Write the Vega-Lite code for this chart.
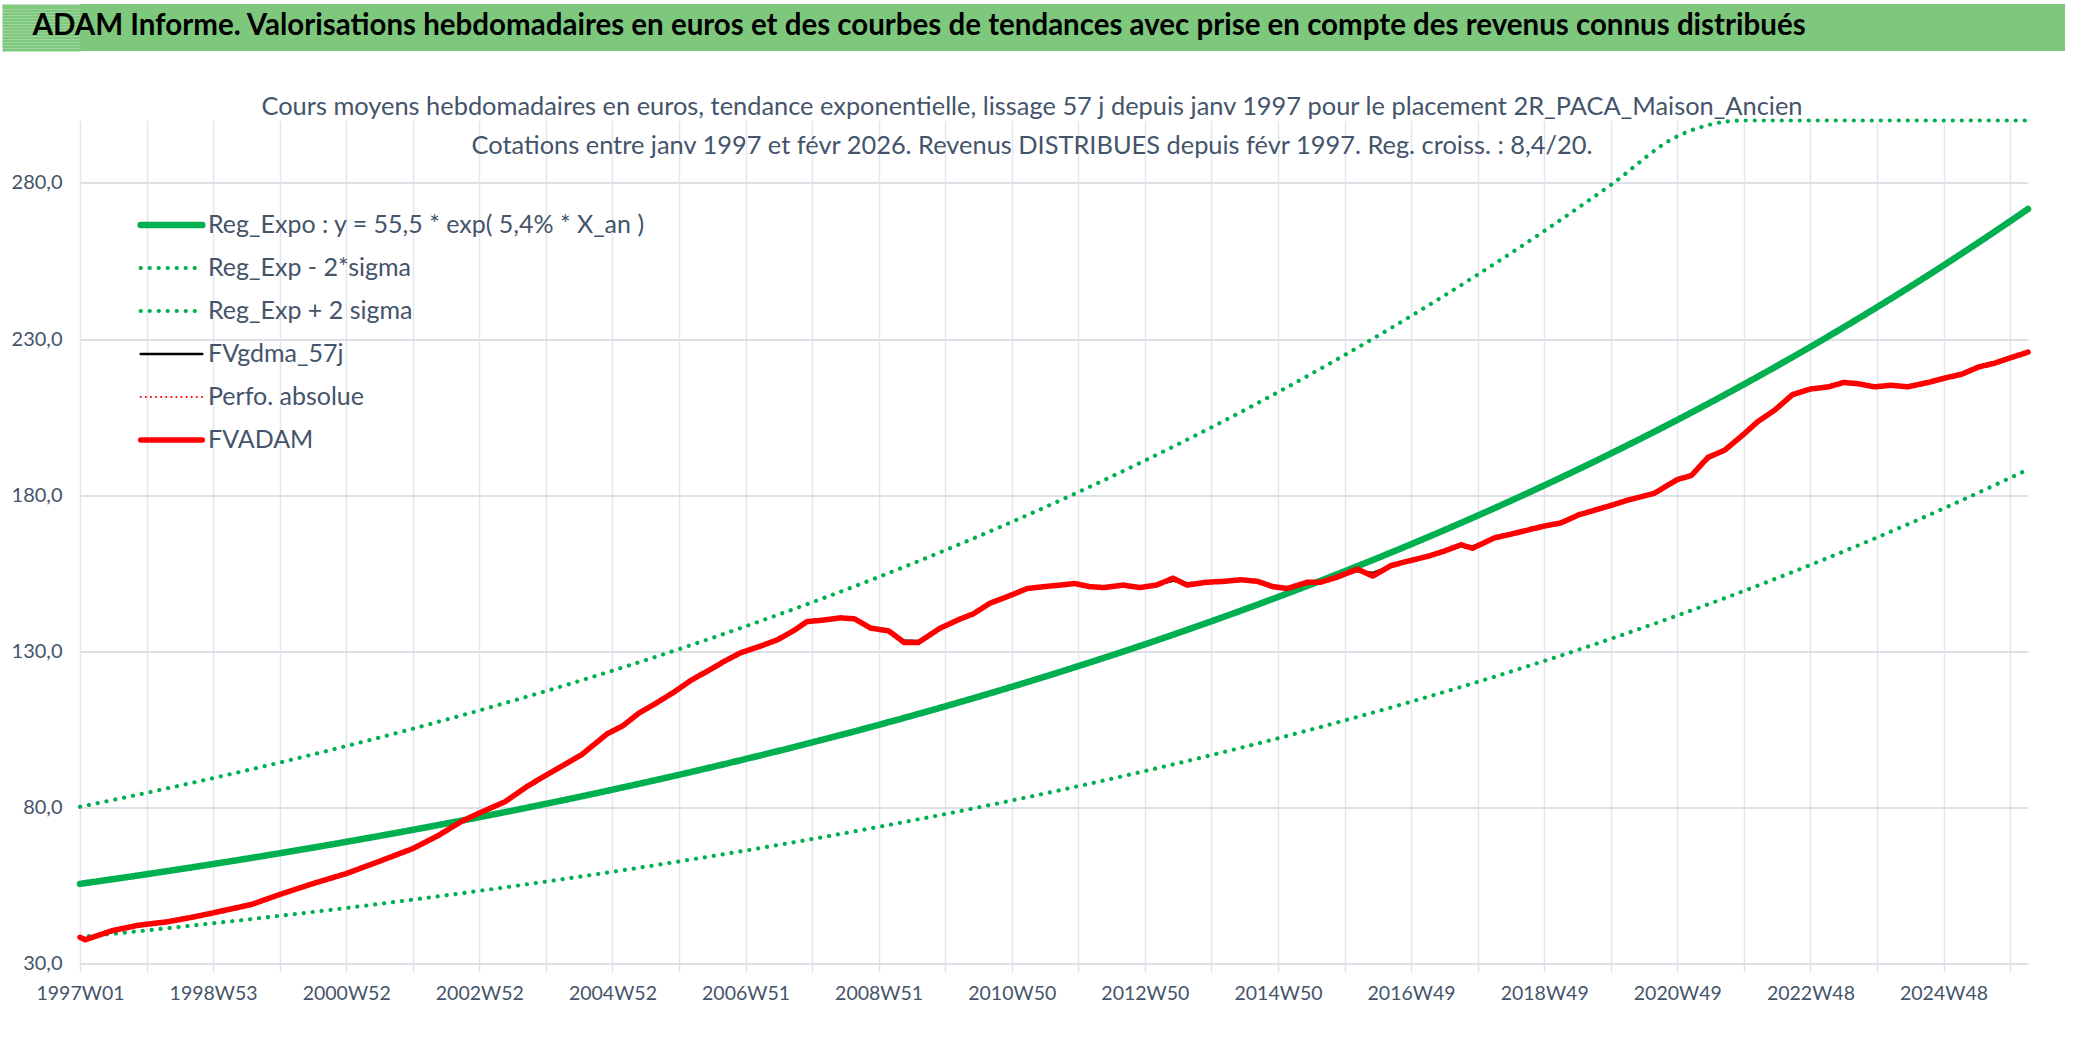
{
  "$schema": "https://vega.github.io/schema/vega-lite/v6.json",
  "background": "white",
  "padding": {"left": 0, "top": 3, "right": 0, "bottom": 0},
  "columns": 1,
  "spacing": 40.5,
  "resolve": {"legend": {"color": "independent", "strokeDash": "independent", "strokeWidth": "independent"}},
  "config": {
    "font": "Lato, sans-serif",
    "locale": {"number": {"decimal": ",", "thousands": " ", "grouping": [3], "currency": ["", " €"]}},
    "view": {"stroke": null}
  },
  "concat": [
    {
      "width": 1985,
      "height": 47,
      "view": {"fill": "#7ec87e", "stroke": null},
      "title": {
        "text": "ADAM Informe. Valorisations hebdomadaires en euros et des courbes de tendances avec prise en compte des revenus connus distribués",
        "anchor": "start",
        "frame": "bounds",
        "offset": -38,
        "dx": 32,
        "fontSize": 29.5,
        "fontWeight": "bold",
        "color": "#000000"
      },
      "data": {"values": [{"h": 0}]},
      "mark": {"type": "point", "opacity": 0},
      "encoding": {
        "y": {
          "field": "h",
          "type": "quantitative",
          "scale": {"domain": [0, 47], "nice": false, "zero": false},
          "axis": {
            "title": null,
            "values": [1.5, 4.5, 7.5, 10.5, 13.5, 16.5, 19.5, 22.5, 25.5, 28.5, 31.5, 34.5, 37.5, 40.5, 43.5, 45.5],
            "labels": false,
            "domain": false,
            "grid": false,
            "ticks": true,
            "tickRound": false,
            "tickSize": 78,
            "tickWidth": 3.2,
            "tickColor": "#7ec87e",
            "minExtent": 78,
            "maxExtent": 78
          }
        }
      }
    },
    {
      "width": 1948,
      "height": 843,
      "title": {
        "text": [
          "Cours moyens hebdomadaires en euros, tendance exponentielle, lissage 57 j depuis janv 1997 pour le placement 2R_PACA_Maison_Ancien",
          "Cotations entre janv 1997 et févr 2026. Revenus DISTRIBUES depuis févr 1997. Reg. croiss. : 8,4/20."
        ],
        "anchor": "middle",
        "dx": -22,
        "offset": -47,
        "fontSize": 25.4,
        "fontWeight": "normal",
        "lineHeight": 39,
        "color": "#44546a"
      },
      "data": {
        "values": [
          {"w": 0, "reg": 55.50, "lo": 38.46, "hi": 80.20},
          {"w": 52, "reg": 58.59, "lo": 40.61, "hi": 84.67},
          {"w": 104, "reg": 61.86, "lo": 42.87, "hi": 89.39},
          {"w": 156, "reg": 65.31, "lo": 45.26, "hi": 94.37},
          {"w": 208, "reg": 68.95, "lo": 47.78, "hi": 99.64},
          {"w": 260, "reg": 72.80, "lo": 50.45, "hi": 105.19},
          {"w": 312, "reg": 76.86, "lo": 53.26, "hi": 111.06},
          {"w": 364, "reg": 81.14, "lo": 56.23, "hi": 117.25},
          {"w": 416, "reg": 85.67, "lo": 59.37, "hi": 123.79},
          {"w": 468, "reg": 90.44, "lo": 62.68, "hi": 130.69},
          {"w": 520, "reg": 95.49, "lo": 66.17, "hi": 137.98},
          {"w": 572, "reg": 100.81, "lo": 69.86, "hi": 145.67},
          {"w": 624, "reg": 106.43, "lo": 73.76, "hi": 153.80},
          {"w": 676, "reg": 112.37, "lo": 77.87, "hi": 162.37},
          {"w": 728, "reg": 118.63, "lo": 82.21, "hi": 171.42},
          {"w": 780, "reg": 125.25, "lo": 86.80, "hi": 180.98},
          {"w": 832, "reg": 132.23, "lo": 91.64, "hi": 191.08},
          {"w": 884, "reg": 139.61, "lo": 96.75, "hi": 201.73},
          {"w": 936, "reg": 147.39, "lo": 102.14, "hi": 212.98},
          {"w": 988, "reg": 155.61, "lo": 107.84, "hi": 224.86},
          {"w": 1040, "reg": 164.29, "lo": 113.85, "hi": 237.39},
          {"w": 1092, "reg": 173.45, "lo": 120.20, "hi": 250.63},
          {"w": 1144, "reg": 183.12, "lo": 126.90, "hi": 264.60},
          {"w": 1196, "reg": 193.33, "lo": 133.98, "hi": 279.36},
          {"w": 1248, "reg": 204.11, "lo": 141.45, "hi": 294.94},
          {"w": 1300, "reg": 215.49, "lo": 149.33, "hi": 311.38},
          {"w": 1352, "reg": 227.51, "lo": 157.66, "hi": 328.75},
          {"w": 1404, "reg": 240.19, "lo": 166.45, "hi": 347.08},
          {"w": 1456, "reg": 253.59, "lo": 175.73, "hi": 366.43},
          {"w": 1508, "reg": 267.73, "lo": 185.53, "hi": 386.86},
          {"w": 1522, "reg": 271.65, "lo": 188.25, "hi": 392.53},
          {"w": 0, "adam": 38.4, "gdma": 38.4},
          {"w": 4, "adam": 37.6, "gdma": 37.8},
          {"w": 25, "adam": 40.5, "gdma": 40.4},
          {"w": 45, "adam": 42.2, "gdma": 42.1},
          {"w": 69, "adam": 43.4, "gdma": 43.4},
          {"w": 90, "adam": 45.0, "gdma": 45.0},
          {"w": 104, "adam": 46.2, "gdma": 46.2},
          {"w": 134, "adam": 48.9, "gdma": 48.9},
          {"w": 156, "adam": 52.1, "gdma": 52.0},
          {"w": 182, "adam": 55.6, "gdma": 55.6},
          {"w": 208, "adam": 58.8, "gdma": 58.8},
          {"w": 233, "adam": 62.6, "gdma": 62.5},
          {"w": 260, "adam": 66.8, "gdma": 66.8},
          {"w": 280, "adam": 71.0, "gdma": 71.0},
          {"w": 298, "adam": 75.5, "gdma": 75.4},
          {"w": 312, "adam": 78.2, "gdma": 78.2},
          {"w": 332, "adam": 81.8, "gdma": 81.9},
          {"w": 350, "adam": 86.9, "gdma": 86.8},
          {"w": 371, "adam": 91.9, "gdma": 91.9},
          {"w": 392, "adam": 96.9, "gdma": 96.9},
          {"w": 412, "adam": 103.6, "gdma": 103.4},
          {"w": 424, "adam": 106.1, "gdma": 106.1},
          {"w": 437, "adam": 110.3, "gdma": 110.2},
          {"w": 451, "adam": 113.6, "gdma": 113.6},
          {"w": 464, "adam": 116.9, "gdma": 116.9},
          {"w": 477, "adam": 120.6, "gdma": 120.5},
          {"w": 490, "adam": 123.6, "gdma": 123.6},
          {"w": 503, "adam": 126.7, "gdma": 126.7},
          {"w": 516, "adam": 129.5, "gdma": 129.4},
          {"w": 532, "adam": 131.7, "gdma": 131.7},
          {"w": 545, "adam": 133.7, "gdma": 133.8},
          {"w": 558, "adam": 136.7, "gdma": 136.6},
          {"w": 568, "adam": 139.5, "gdma": 139.3},
          {"w": 581, "adam": 140.0, "gdma": 140.0},
          {"w": 594, "adam": 140.7, "gdma": 140.6},
          {"w": 605, "adam": 140.4, "gdma": 140.3},
          {"w": 618, "adam": 137.4, "gdma": 137.6},
          {"w": 632, "adam": 136.5, "gdma": 136.4},
          {"w": 644, "adam": 132.8, "gdma": 133.4},
          {"w": 655, "adam": 132.8, "gdma": 133.3},
          {"w": 672, "adam": 137.4, "gdma": 137.2},
          {"w": 688, "adam": 140.4, "gdma": 140.4},
          {"w": 698, "adam": 142.0, "gdma": 142.0},
          {"w": 711, "adam": 145.4, "gdma": 145.3},
          {"w": 727, "adam": 147.9, "gdma": 147.9},
          {"w": 740, "adam": 150.1, "gdma": 150.0},
          {"w": 753, "adam": 150.7, "gdma": 150.7},
          {"w": 766, "adam": 151.2, "gdma": 151.2},
          {"w": 777, "adam": 151.7, "gdma": 151.5},
          {"w": 789, "adam": 150.7, "gdma": 150.8},
          {"w": 800, "adam": 150.4, "gdma": 150.5},
          {"w": 815, "adam": 151.2, "gdma": 151.0},
          {"w": 828, "adam": 150.4, "gdma": 150.6},
          {"w": 841, "adam": 151.2, "gdma": 151.3},
          {"w": 854, "adam": 153.4, "gdma": 152.6},
          {"w": 865, "adam": 151.2, "gdma": 151.8},
          {"w": 880, "adam": 152.1, "gdma": 152.0},
          {"w": 894, "adam": 152.4, "gdma": 152.4},
          {"w": 907, "adam": 152.9, "gdma": 152.8},
          {"w": 920, "adam": 152.4, "gdma": 152.3},
          {"w": 932, "adam": 150.7, "gdma": 151.0},
          {"w": 943, "adam": 150.1, "gdma": 150.4},
          {"w": 959, "adam": 152.1, "gdma": 151.9},
          {"w": 969, "adam": 152.1, "gdma": 152.2},
          {"w": 982, "adam": 153.7, "gdma": 153.7},
          {"w": 998, "adam": 156.3, "gdma": 155.7},
          {"w": 1010, "adam": 154.1, "gdma": 155.1},
          {"w": 1024, "adam": 157.4, "gdma": 157.2},
          {"w": 1037, "adam": 158.8, "gdma": 158.8},
          {"w": 1053, "adam": 160.4, "gdma": 160.4},
          {"w": 1066, "adam": 162.1, "gdma": 162.0},
          {"w": 1079, "adam": 164.1, "gdma": 163.8},
          {"w": 1088, "adam": 163.0, "gdma": 163.6},
          {"w": 1105, "adam": 166.3, "gdma": 166.1},
          {"w": 1118, "adam": 167.5, "gdma": 167.5},
          {"w": 1131, "adam": 168.8, "gdma": 168.8},
          {"w": 1144, "adam": 170.1, "gdma": 170.1},
          {"w": 1157, "adam": 171.1, "gdma": 171.2},
          {"w": 1171, "adam": 173.7, "gdma": 173.5},
          {"w": 1196, "adam": 176.7, "gdma": 176.6},
          {"w": 1210, "adam": 178.5, "gdma": 178.4},
          {"w": 1230, "adam": 180.6, "gdma": 180.8},
          {"w": 1248, "adam": 185.0, "gdma": 184.6},
          {"w": 1259, "adam": 186.3, "gdma": 186.6},
          {"w": 1272, "adam": 192.1, "gdma": 191.6},
          {"w": 1285, "adam": 194.4, "gdma": 194.5},
          {"w": 1299, "adam": 199.2, "gdma": 199.0},
          {"w": 1311, "adam": 203.6, "gdma": 203.4},
          {"w": 1324, "adam": 207.2, "gdma": 207.3},
          {"w": 1338, "adam": 212.2, "gdma": 211.8},
          {"w": 1352, "adam": 214.0, "gdma": 214.0},
          {"w": 1366, "adam": 214.7, "gdma": 214.8},
          {"w": 1378, "adam": 216.1, "gdma": 215.8},
          {"w": 1389, "adam": 215.7, "gdma": 215.6},
          {"w": 1402, "adam": 214.7, "gdma": 214.9},
          {"w": 1415, "adam": 215.2, "gdma": 215.1},
          {"w": 1428, "adam": 214.7, "gdma": 214.9},
          {"w": 1444, "adam": 216.1, "gdma": 215.9},
          {"w": 1457, "adam": 217.5, "gdma": 217.4},
          {"w": 1470, "adam": 218.7, "gdma": 218.7},
          {"w": 1483, "adam": 221.0, "gdma": 220.8},
          {"w": 1496, "adam": 222.3, "gdma": 222.3},
          {"w": 1509, "adam": 224.1, "gdma": 224.0},
          {"w": 1522, "adam": 225.8, "gdma": 225.6}
        ]
      },
      "transform": [
        {"fold": ["reg", "lo", "hi", "gdma", "adam"], "as": ["s", "v"]},
        {"filter": "isValid(datum.v)"}
      ],
      "encoding": {
        "x": {
          "field": "w",
          "type": "quantitative",
          "scale": {"domain": [0, 1522], "nice": false, "zero": false},
          "axis": {
            "title": null,
            "values": [0, 52, 104, 156, 208, 260, 312, 364, 416, 468, 520, 572, 624, 676, 728, 780, 832, 884, 936, 988, 1040, 1092, 1144, 1196, 1248, 1300, 1352, 1404, 1456, 1508],
            "labelExpr": "datum.value % 104 == 0 ? ['1997W01','1998W53','2000W52','2002W52','2004W52','2006W51','2008W51','2010W50','2012W50','2014W50','2016W49','2018W49','2020W49','2022W48','2024W48'][datum.value / 104] : ''",
            "labelOverlap": false,
            "labelFlush": false,
            "labelFontSize": 19.5,
            "labelColor": "#44546a",
            "labelPadding": 13,
            "domain": false,
            "ticks": true,
            "tickSize": 8,
            "tickColor": "#dde1e7",
            "tickWidth": 1.5,
            "grid": true,
            "gridColor": "#e3e6ea",
            "gridWidth": 1.5
          }
        },
        "y": {
          "field": "v",
          "type": "quantitative",
          "scale": {"domain": [30, 300], "nice": false, "zero": false, "clamp": true},
          "axis": {
            "title": null,
            "values": [30, 80, 130, 180, 230, 280],
            "format": ".1f",
            "labelFontSize": 20,
            "labelColor": "#44546a",
            "labelPadding": 18,
            "ticks": false,
            "tickSize": 0,
            "domain": false,
            "grid": true,
            "gridColor": "#dde1e7",
            "gridWidth": 2,
            "minExtent": 78,
            "maxExtent": 78
          }
        },
        "color": {
          "field": "s",
          "type": "nominal",
          "scale": {
            "domain": ["reg", "lo", "hi", "gdma", "perf", "adam"],
            "range": ["#00b050", "#00b050", "#00b050", "#000000", "#ff0000", "#ff0000"]
          },
          "legend": {
            "orient": "none",
            "legendX": 57,
            "legendY": 83,
            "title": null,
            "padding": 0,
            "symbolType": "stroke",
            "symbolSize": 3800,
            "clipHeight": 43,
            "rowPadding": 0,
            "labelFontSize": 25,
            "labelColor": "#44546a",
            "labelLimit": 0,
            "labelOffset": 2,
            "labelExpr": "datum.label == 'reg' ? 'Reg_Expo : y = 55,5 * exp( 5,4% *  X_an )' : datum.label == 'lo' ? 'Reg_Exp - 2*sigma' : datum.label == 'hi' ? 'Reg_Exp + 2 sigma' : datum.label == 'gdma' ? 'FVgdma_57j' : datum.label == 'perf' ? 'Perfo. absolue' : 'FVADAM'",
            "encode": {"symbols": {"update": {"strokeCap": {"value": "round"}}}}
          }
        },
        "strokeDash": {
          "field": "s",
          "type": "nominal",
          "scale": {
            "domain": ["reg", "lo", "hi", "gdma", "perf", "adam"],
            "range": [[1, 0], [0.1, 8.9], [0.1, 8.9], [1, 0], [0.1, 5], [1, 0]]
          },
          "legend": null
        },
        "strokeWidth": {
          "field": "s",
          "type": "nominal",
          "scale": {
            "type": "ordinal",
            "domain": ["reg", "lo", "hi", "gdma", "perf", "adam"],
            "range": [6.5, 4.2, 4.2, 2.5, 2, 5.5]
          },
          "legend": null
        }
      },
      "layer": [
        {
          "transform": [{"filter": "datum.s == 'reg' || datum.s == 'lo' || datum.s == 'hi'"}],
          "mark": {"type": "line", "interpolate": "monotone", "strokeCap": "round"}
        },
        {
          "transform": [{"filter": "datum.s == 'gdma'"}],
          "mark": {"type": "line", "strokeCap": "round"}
        },
        {
          "transform": [{"filter": "datum.s == 'adam'"}],
          "mark": {"type": "line", "strokeCap": "round", "strokeJoin": "round"}
        }
      ]
    }
  ]
}
